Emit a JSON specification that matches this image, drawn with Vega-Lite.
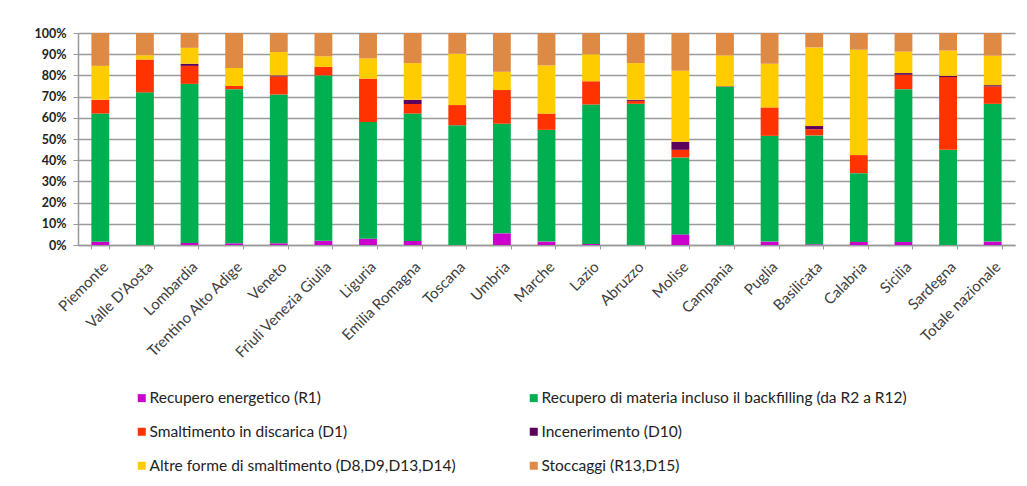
{
  "$schema": "https://vega.github.io/schema/vega-lite/v6.json",
  "autosize": {"type": "none"},
  "width": 937,
  "height": 212,
  "padding": {"left": 78, "top": 33, "right": 12, "bottom": 241},
  "background": "white",
  "config": {
    "view": {"stroke": null},
    "font": "Lato"
  },
  "data": {
    "values": [
      {"regione": "Piemonte", "tipo": "Recupero energetico (R1)", "valore": 1.5},
      {"regione": "Piemonte", "tipo": "Recupero di materia incluso il backfilling  (da R2 a R12)", "valore": 60.5},
      {"regione": "Piemonte", "tipo": "Smaltimento in discarica (D1)", "valore": 6.5},
      {"regione": "Piemonte", "tipo": "Incenerimento (D10)", "valore": 0},
      {"regione": "Piemonte", "tipo": "Altre forme di smaltimento (D8,D9,D13,D14)", "valore": 16},
      {"regione": "Piemonte", "tipo": "Stoccaggi (R13,D15)", "valore": 15.5},

      {"regione": "Valle D'Aosta", "tipo": "Recupero energetico (R1)", "valore": 0},
      {"regione": "Valle D'Aosta", "tipo": "Recupero di materia incluso il backfilling  (da R2 a R12)", "valore": 72},
      {"regione": "Valle D'Aosta", "tipo": "Smaltimento in discarica (D1)", "valore": 15.5},
      {"regione": "Valle D'Aosta", "tipo": "Incenerimento (D10)", "valore": 0},
      {"regione": "Valle D'Aosta", "tipo": "Altre forme di smaltimento (D8,D9,D13,D14)", "valore": 2},
      {"regione": "Valle D'Aosta", "tipo": "Stoccaggi (R13,D15)", "valore": 10.5},

      {"regione": "Lombardia", "tipo": "Recupero energetico (R1)", "valore": 1},
      {"regione": "Lombardia", "tipo": "Recupero di materia incluso il backfilling  (da R2 a R12)", "valore": 75},
      {"regione": "Lombardia", "tipo": "Smaltimento in discarica (D1)", "valore": 8.5},
      {"regione": "Lombardia", "tipo": "Incenerimento (D10)", "valore": 1},
      {"regione": "Lombardia", "tipo": "Altre forme di smaltimento (D8,D9,D13,D14)", "valore": 7.5},
      {"regione": "Lombardia", "tipo": "Stoccaggi (R13,D15)", "valore": 7},

      {"regione": "Trentino Alto Adige", "tipo": "Recupero energetico (R1)", "valore": 0.8},
      {"regione": "Trentino Alto Adige", "tipo": "Recupero di materia incluso il backfilling  (da R2 a R12)", "valore": 72.7},
      {"regione": "Trentino Alto Adige", "tipo": "Smaltimento in discarica (D1)", "valore": 1.5},
      {"regione": "Trentino Alto Adige", "tipo": "Incenerimento (D10)", "valore": 0},
      {"regione": "Trentino Alto Adige", "tipo": "Altre forme di smaltimento (D8,D9,D13,D14)", "valore": 8.5},
      {"regione": "Trentino Alto Adige", "tipo": "Stoccaggi (R13,D15)", "valore": 16.5},

      {"regione": "Veneto", "tipo": "Recupero energetico (R1)", "valore": 0.8},
      {"regione": "Veneto", "tipo": "Recupero di materia incluso il backfilling  (da R2 a R12)", "valore": 70.2},
      {"regione": "Veneto", "tipo": "Smaltimento in discarica (D1)", "valore": 8.5},
      {"regione": "Veneto", "tipo": "Incenerimento (D10)", "valore": 0.5},
      {"regione": "Veneto", "tipo": "Altre forme di smaltimento (D8,D9,D13,D14)", "valore": 11},
      {"regione": "Veneto", "tipo": "Stoccaggi (R13,D15)", "valore": 9},

      {"regione": "Friuli Venezia Giulia", "tipo": "Recupero energetico (R1)", "valore": 2},
      {"regione": "Friuli Venezia Giulia", "tipo": "Recupero di materia incluso il backfilling  (da R2 a R12)", "valore": 78},
      {"regione": "Friuli Venezia Giulia", "tipo": "Smaltimento in discarica (D1)", "valore": 4},
      {"regione": "Friuli Venezia Giulia", "tipo": "Incenerimento (D10)", "valore": 0},
      {"regione": "Friuli Venezia Giulia", "tipo": "Altre forme di smaltimento (D8,D9,D13,D14)", "valore": 5},
      {"regione": "Friuli Venezia Giulia", "tipo": "Stoccaggi (R13,D15)", "valore": 11},

      {"regione": "Liguria", "tipo": "Recupero energetico (R1)", "valore": 3},
      {"regione": "Liguria", "tipo": "Recupero di materia incluso il backfilling  (da R2 a R12)", "valore": 55},
      {"regione": "Liguria", "tipo": "Smaltimento in discarica (D1)", "valore": 20.5},
      {"regione": "Liguria", "tipo": "Incenerimento (D10)", "valore": 0},
      {"regione": "Liguria", "tipo": "Altre forme di smaltimento (D8,D9,D13,D14)", "valore": 9.5},
      {"regione": "Liguria", "tipo": "Stoccaggi (R13,D15)", "valore": 12},

      {"regione": "Emilia Romagna", "tipo": "Recupero energetico (R1)", "valore": 1.9},
      {"regione": "Emilia Romagna", "tipo": "Recupero di materia incluso il backfilling  (da R2 a R12)", "valore": 60.1},
      {"regione": "Emilia Romagna", "tipo": "Smaltimento in discarica (D1)", "valore": 4.5},
      {"regione": "Emilia Romagna", "tipo": "Incenerimento (D10)", "valore": 2},
      {"regione": "Emilia Romagna", "tipo": "Altre forme di smaltimento (D8,D9,D13,D14)", "valore": 17.3},
      {"regione": "Emilia Romagna", "tipo": "Stoccaggi (R13,D15)", "valore": 14.2},

      {"regione": "Toscana", "tipo": "Recupero energetico (R1)", "valore": 0},
      {"regione": "Toscana", "tipo": "Recupero di materia incluso il backfilling  (da R2 a R12)", "valore": 56.5},
      {"regione": "Toscana", "tipo": "Smaltimento in discarica (D1)", "valore": 9.5},
      {"regione": "Toscana", "tipo": "Incenerimento (D10)", "valore": 0},
      {"regione": "Toscana", "tipo": "Altre forme di smaltimento (D8,D9,D13,D14)", "valore": 24.2},
      {"regione": "Toscana", "tipo": "Stoccaggi (R13,D15)", "valore": 9.8},

      {"regione": "Umbria", "tipo": "Recupero energetico (R1)", "valore": 5.5},
      {"regione": "Umbria", "tipo": "Recupero di materia incluso il backfilling  (da R2 a R12)", "valore": 51.7},
      {"regione": "Umbria", "tipo": "Smaltimento in discarica (D1)", "valore": 15.9},
      {"regione": "Umbria", "tipo": "Incenerimento (D10)", "valore": 0},
      {"regione": "Umbria", "tipo": "Altre forme di smaltimento (D8,D9,D13,D14)", "valore": 8.6},
      {"regione": "Umbria", "tipo": "Stoccaggi (R13,D15)", "valore": 18.3},

      {"regione": "Marche", "tipo": "Recupero energetico (R1)", "valore": 1.6},
      {"regione": "Marche", "tipo": "Recupero di materia incluso il backfilling  (da R2 a R12)", "valore": 52.7},
      {"regione": "Marche", "tipo": "Smaltimento in discarica (D1)", "valore": 7.7},
      {"regione": "Marche", "tipo": "Incenerimento (D10)", "valore": 0},
      {"regione": "Marche", "tipo": "Altre forme di smaltimento (D8,D9,D13,D14)", "valore": 22.7},
      {"regione": "Marche", "tipo": "Stoccaggi (R13,D15)", "valore": 15.3},

      {"regione": "Lazio", "tipo": "Recupero energetico (R1)", "valore": 0.5},
      {"regione": "Lazio", "tipo": "Recupero di materia incluso il backfilling  (da R2 a R12)", "valore": 65.8},
      {"regione": "Lazio", "tipo": "Smaltimento in discarica (D1)", "valore": 10.9},
      {"regione": "Lazio", "tipo": "Incenerimento (D10)", "valore": 0},
      {"regione": "Lazio", "tipo": "Altre forme di smaltimento (D8,D9,D13,D14)", "valore": 12.8},
      {"regione": "Lazio", "tipo": "Stoccaggi (R13,D15)", "valore": 10},

      {"regione": "Abruzzo", "tipo": "Recupero energetico (R1)", "valore": 0},
      {"regione": "Abruzzo", "tipo": "Recupero di materia incluso il backfilling  (da R2 a R12)", "valore": 66.6},
      {"regione": "Abruzzo", "tipo": "Smaltimento in discarica (D1)", "valore": 1.4},
      {"regione": "Abruzzo", "tipo": "Incenerimento (D10)", "valore": 0.5},
      {"regione": "Abruzzo", "tipo": "Altre forme di smaltimento (D8,D9,D13,D14)", "valore": 17.3},
      {"regione": "Abruzzo", "tipo": "Stoccaggi (R13,D15)", "valore": 14.2},

      {"regione": "Molise", "tipo": "Recupero energetico (R1)", "valore": 5},
      {"regione": "Molise", "tipo": "Recupero di materia incluso il backfilling  (da R2 a R12)", "valore": 36.3},
      {"regione": "Molise", "tipo": "Smaltimento in discarica (D1)", "valore": 3.6},
      {"regione": "Molise", "tipo": "Incenerimento (D10)", "valore": 3.8},
      {"regione": "Molise", "tipo": "Altre forme di smaltimento (D8,D9,D13,D14)", "valore": 33.5},
      {"regione": "Molise", "tipo": "Stoccaggi (R13,D15)", "valore": 17.8},

      {"regione": "Campania", "tipo": "Recupero energetico (R1)", "valore": 0},
      {"regione": "Campania", "tipo": "Recupero di materia incluso il backfilling  (da R2 a R12)", "valore": 74.8},
      {"regione": "Campania", "tipo": "Smaltimento in discarica (D1)", "valore": 0.2},
      {"regione": "Campania", "tipo": "Incenerimento (D10)", "valore": 0},
      {"regione": "Campania", "tipo": "Altre forme di smaltimento (D8,D9,D13,D14)", "valore": 14.4},
      {"regione": "Campania", "tipo": "Stoccaggi (R13,D15)", "valore": 10.6},

      {"regione": "Puglia", "tipo": "Recupero energetico (R1)", "valore": 1.6},
      {"regione": "Puglia", "tipo": "Recupero di materia incluso il backfilling  (da R2 a R12)", "valore": 49.9},
      {"regione": "Puglia", "tipo": "Smaltimento in discarica (D1)", "valore": 13.4},
      {"regione": "Puglia", "tipo": "Incenerimento (D10)", "valore": 0},
      {"regione": "Puglia", "tipo": "Altre forme di smaltimento (D8,D9,D13,D14)", "valore": 20.6},
      {"regione": "Puglia", "tipo": "Stoccaggi (R13,D15)", "valore": 14.5},

      {"regione": "Basilicata", "tipo": "Recupero energetico (R1)", "valore": 0.3},
      {"regione": "Basilicata", "tipo": "Recupero di materia incluso il backfilling  (da R2 a R12)", "valore": 51.4},
      {"regione": "Basilicata", "tipo": "Smaltimento in discarica (D1)", "valore": 2.9},
      {"regione": "Basilicata", "tipo": "Incenerimento (D10)", "valore": 1.5},
      {"regione": "Basilicata", "tipo": "Altre forme di smaltimento (D8,D9,D13,D14)", "valore": 37.1},
      {"regione": "Basilicata", "tipo": "Stoccaggi (R13,D15)", "valore": 6.8},

      {"regione": "Calabria", "tipo": "Recupero energetico (R1)", "valore": 1.4},
      {"regione": "Calabria", "tipo": "Recupero di materia incluso il backfilling  (da R2 a R12)", "valore": 32.5},
      {"regione": "Calabria", "tipo": "Smaltimento in discarica (D1)", "valore": 8.5},
      {"regione": "Calabria", "tipo": "Incenerimento (D10)", "valore": 0},
      {"regione": "Calabria", "tipo": "Altre forme di smaltimento (D8,D9,D13,D14)", "valore": 49.7},
      {"regione": "Calabria", "tipo": "Stoccaggi (R13,D15)", "valore": 7.9},

      {"regione": "Sicilia", "tipo": "Recupero energetico (R1)", "valore": 1.4},
      {"regione": "Sicilia", "tipo": "Recupero di materia incluso il backfilling  (da R2 a R12)", "valore": 72.1},
      {"regione": "Sicilia", "tipo": "Smaltimento in discarica (D1)", "valore": 6.8},
      {"regione": "Sicilia", "tipo": "Incenerimento (D10)", "valore": 0.8},
      {"regione": "Sicilia", "tipo": "Altre forme di smaltimento (D8,D9,D13,D14)", "valore": 10.1},
      {"regione": "Sicilia", "tipo": "Stoccaggi (R13,D15)", "valore": 8.8},

      {"regione": "Sardegna", "tipo": "Recupero energetico (R1)", "valore": 0},
      {"regione": "Sardegna", "tipo": "Recupero di materia incluso il backfilling  (da R2 a R12)", "valore": 44.9},
      {"regione": "Sardegna", "tipo": "Smaltimento in discarica (D1)", "valore": 34.3},
      {"regione": "Sardegna", "tipo": "Incenerimento (D10)", "valore": 0.6},
      {"regione": "Sardegna", "tipo": "Altre forme di smaltimento (D8,D9,D13,D14)", "valore": 11.9},
      {"regione": "Sardegna", "tipo": "Stoccaggi (R13,D15)", "valore": 8.3},

      {"regione": "Totale nazionale", "tipo": "Recupero energetico (R1)", "valore": 1.6},
      {"regione": "Totale nazionale", "tipo": "Recupero di materia incluso il backfilling  (da R2 a R12)", "valore": 65},
      {"regione": "Totale nazionale", "tipo": "Smaltimento in discarica (D1)", "valore": 8.2},
      {"regione": "Totale nazionale", "tipo": "Incenerimento (D10)", "valore": 0.6},
      {"regione": "Totale nazionale", "tipo": "Altre forme di smaltimento (D8,D9,D13,D14)", "valore": 13.9},
      {"regione": "Totale nazionale", "tipo": "Stoccaggi (R13,D15)", "valore": 10.7}
    ]
  },
  "transform": [
    {"calculate": "indexof(['Recupero energetico (R1)','Recupero di materia incluso il backfilling  (da R2 a R12)','Smaltimento in discarica (D1)','Incenerimento (D10)','Altre forme di smaltimento (D8,D9,D13,D14)','Stoccaggi (R13,D15)'], datum.tipo)", "as": "ord"}
  ],
  "mark": {"type": "bar"},
  "encoding": {
    "x": {
      "field": "regione",
      "type": "nominal",
      "sort": null,
      "scale": {"paddingInner": 0.6, "paddingOuter": 0.3},
      "axis": {
        "title": null,
        "labelAngle": -45,
        "labelAlign": "right",
        "labelBaseline": "top",
        "labelFont": "Lato",
        "labelFontSize": 15,
        "labelColor": "#404040",
        "labelPadding": 10,
        "labelLimit": 250,
        "tickBand": "extent",
        "tickColor": "#999",
        "tickSize": 4,
        "domainColor": "#999",
        "domainWidth": 1.5,
        "grid": false
      }
    },
    "y": {
      "field": "valore",
      "type": "quantitative",
      "stack": "normalize",
      "scale": {"domain": [0, 1], "nice": false},
      "axis": {
        "title": null,
        "values": [0, 0.1, 0.2, 0.3, 0.4, 0.5, 0.6, 0.7, 0.8, 0.9, 1],
        "format": ".0%",
        "labelFont": "Lato",
        "labelFontWeight": "bold",
        "labelFontSize": 12.5,
        "labelColor": "#222",
        "labelPadding": 7,
        "tickColor": "#999",
        "tickSize": 5,
        "domainColor": "#999",
        "domainWidth": 1.5,
        "grid": true,
        "gridColor": "#9a9a9a",
        "gridWidth": 1.5
      }
    },
    "color": {
      "field": "tipo",
      "type": "nominal",
      "scale": {
        "domain": ["Recupero energetico (R1)", "Smaltimento in discarica (D1)", "Altre forme di smaltimento (D8,D9,D13,D14)", "Recupero di materia incluso il backfilling  (da R2 a R12)", "Incenerimento (D10)", "Stoccaggi (R13,D15)"],
        "range": ["#CC00CC", "#FF3300", "#FFCC00", "#00B050", "#5C005C", "#DE8A45"]
      },
      "legend": {
        "title": null,
        "orient": "none",
        "legendX": 56,
        "legendY": 357,
        "columns": 2,
        "columnPadding": 70,
        "rowPadding": 17,
        "symbolType": "square",
        "symbolSize": 64,
        "symbolStrokeWidth": 0,
        "labelFont": "Lato",
        "labelFontSize": 15.5,
        "labelColor": "#222",
        "labelLimit": 600,
        "labelOffset": 0,
        "gridAlign": "each"
      }
    },
    "order": {"field": "ord", "type": "quantitative"}
  }
}
